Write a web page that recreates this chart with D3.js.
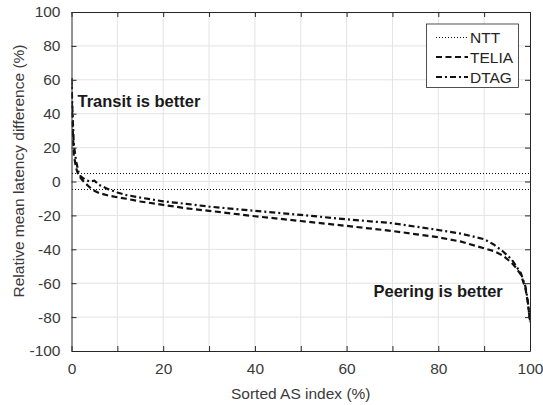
<!DOCTYPE html>
<html>
<head>
<meta charset="utf-8">
<script src="https://cdn.jsdelivr.net/npm/d3@7"></script>
<style>
  html, body { margin: 0; padding: 0; background: #fff; }
  svg { display: block; font-family: "Liberation Sans", Arial, Helvetica, sans-serif; }
</style>
</head>
<body>
<svg id="chart" width="543" height="405"></svg>
<script>
// ---- data ----
const xIndex = [0, 0.2, 0.5, 1, 1.5, 2, 3, 4, 5, 6, 8, 10, 12, 15, 20, 25, 30, 40, 50, 60, 70, 80, 85, 90, 92, 94, 96, 97, 98, 99, 99.5, 100];
const dtag  = [61, 42, 22, 12, 6, 3, 1, 0, 0.5, -2, -4.5, -6.5, -8, -9.5, -11.7, -13.2, -14.8, -17.3, -19.7, -22.3, -24.6, -28.6, -30.8, -34, -37, -41, -46, -50, -54, -62, -70, -83];
const telia = [58, 35, 16, 8, 4, 2, -1, -3.5, -5.5, -6.8, -8.3, -9.3, -10.2, -11.8, -13.8, -15.8, -17.3, -20.5, -23.3, -26.2, -29.2, -32.9, -35.5, -39.4, -41, -43.5, -48, -51, -55, -63, -71, -82];
const nttX = [0, 100];
const nttUpper = [5, 5];
const nttLower = [-5, -5];
const xTicks = [0, 10, 20, 30, 40, 50, 60, 70, 80, 90, 100];
const xTickLabels = ["0", "", "20", "", "40", "", "60", "", "80", "", "100"];
const yTicks = [-100, -80, -60, -40, -20, 0, 20, 40, 60, 80, 100];
const legendNames = ["NTT", "TELIA", "DTAG"];

// ---- layout ----
const svg = d3.select("#chart");
const L = 71.5, R = 530, T = 12, B = 351;
const x = d3.scaleLinear().domain([0, 100]).range([L, R]);
const y = d3.scaleLinear().domain([-100, 100]).range([B, T]);
const axisColor = "#262626";
const textColor = "#3a3a3a";

// grid
const grid = svg.append("g");
grid.selectAll("line.gx").data(xTicks.slice(1, -1)).join("line")
  .attr("x1", d => x(d)).attr("x2", d => x(d)).attr("y1", T).attr("y2", B)
  .attr("stroke", "#e3e3e3").attr("stroke-width", 1);
grid.selectAll("line.gy").data(yTicks.slice(1, -1)).join("line")
  .attr("y1", d => y(d)).attr("y2", d => y(d)).attr("x1", L).attr("x2", R)
  .attr("stroke", "#e3e3e3").attr("stroke-width", 1);

// clip
svg.append("clipPath").attr("id", "clip").append("rect")
  .attr("x", L).attr("y", T).attr("width", R - L).attr("height", B - T);
const plot = svg.append("g").attr("clip-path", "url(#clip)");

const line = d3.line().x(d => x(d[0])).y(d => y(d[1]));

// NTT dotted bounds
[nttUpper, nttLower].forEach(arr => {
  plot.append("path").datum(nttX.map((v, i) => [v, arr[i]]))
    .attr("d", line).attr("fill", "none").attr("stroke", "#111")
    .attr("stroke-width", 1).attr("stroke-dasharray", "1,2")
    .attr("shape-rendering", "crispEdges");
});

// TELIA dashed
plot.append("path").datum(xIndex.map((v, i) => [v, telia[i]]))
  .attr("d", line).attr("fill", "none").attr("stroke", "#111")
  .attr("stroke-width", 2.2).attr("stroke-dasharray", "6,3.5");

// DTAG dash-dot
plot.append("path").datum(xIndex.map((v, i) => [v, dtag[i]]))
  .attr("d", line).attr("fill", "none").attr("stroke", "#111")
  .attr("stroke-width", 2.2).attr("stroke-dasharray", "6,3,2,3");

// axes (box with inward ticks)
const fmt = d => String(d);
const xAxisB = d3.axisBottom(x).tickValues(xTicks).tickSizeInner(-5).tickSizeOuter(0)
  .tickFormat((d, i) => xTickLabels[i]).tickPadding(12);
const xAxisT = d3.axisTop(x).tickValues(xTicks).tickSizeInner(-5).tickSizeOuter(0).tickFormat("");
const yAxisL = d3.axisLeft(y).tickValues(yTicks).tickSizeInner(-5).tickSizeOuter(0).tickPadding(11).tickFormat(fmt);
const yAxisR = d3.axisRight(y).tickValues(yTicks).tickSizeInner(-5).tickSizeOuter(0).tickFormat("");

function style(g) {
  g.select(".domain").attr("stroke", axisColor).attr("stroke-width", 1);
  g.selectAll(".tick line").attr("stroke", axisColor).attr("stroke-width", 1);
  g.selectAll(".tick text").attr("fill", textColor)
    .style("font-size", "15.5px").style("font-family", "'Liberation Sans', Arial, Helvetica, sans-serif");
}
svg.append("g").attr("transform", `translate(0,${B})`).call(xAxisB).call(style);
svg.append("g").attr("transform", `translate(0,${T})`).call(xAxisT).call(style);
svg.append("g").attr("transform", `translate(${L},0)`).call(yAxisL).call(style);
svg.append("g").attr("transform", `translate(${R},0)`).call(yAxisR).call(style);

// axis labels
svg.append("text").attr("x", (L + R) / 2).attr("y", 399).attr("text-anchor", "middle")
  .attr("fill", textColor).style("font-size", "15.5px").text("Sorted AS index (%)");
svg.append("text").attr("transform", "translate(23.5,171) rotate(-90)").attr("text-anchor", "middle")
  .attr("fill", textColor).style("font-size", "15.5px").text("Relative mean latency difference (%)");

// annotations
svg.append("text").attr("x", 77.5).attr("y", 107).attr("fill", "#1a1a1a")
  .style("font-size", "16.5px").style("font-weight", "bold").text("Transit is better");
svg.append("text").attr("x", 373.5).attr("y", 296.5).attr("fill", "#1a1a1a")
  .style("font-size", "16.5px").style("font-weight", "bold").text("Peering is better");

// legend
const lg = svg.append("g");
lg.append("rect").attr("x", 426.5).attr("y", 24).attr("width", 92).attr("height", 63.5)
  .attr("fill", "#fff").attr("stroke", axisColor).attr("stroke-width", 0.8);
const dashes = ["1,2", "6,3.5", "6,3,2,3"];
const widths = [1, 2.2, 2.2];
legendNames.forEach((name, i) => {
  const cy = 37 + i * 20;
  lg.append("line").attr("x1", 436).attr("x2", 468).attr("y1", cy).attr("y2", cy)
    .attr("stroke", "#111").attr("stroke-width", widths[i]).attr("stroke-dasharray", dashes[i])
    .attr("shape-rendering", i === 0 ? "crispEdges" : "auto");
  lg.append("text").attr("x", 470).attr("y", cy + 5.5).attr("fill", axisColor)
    .style("font-size", "15.5px").text(name);
});
</script>
</body>
</html>
